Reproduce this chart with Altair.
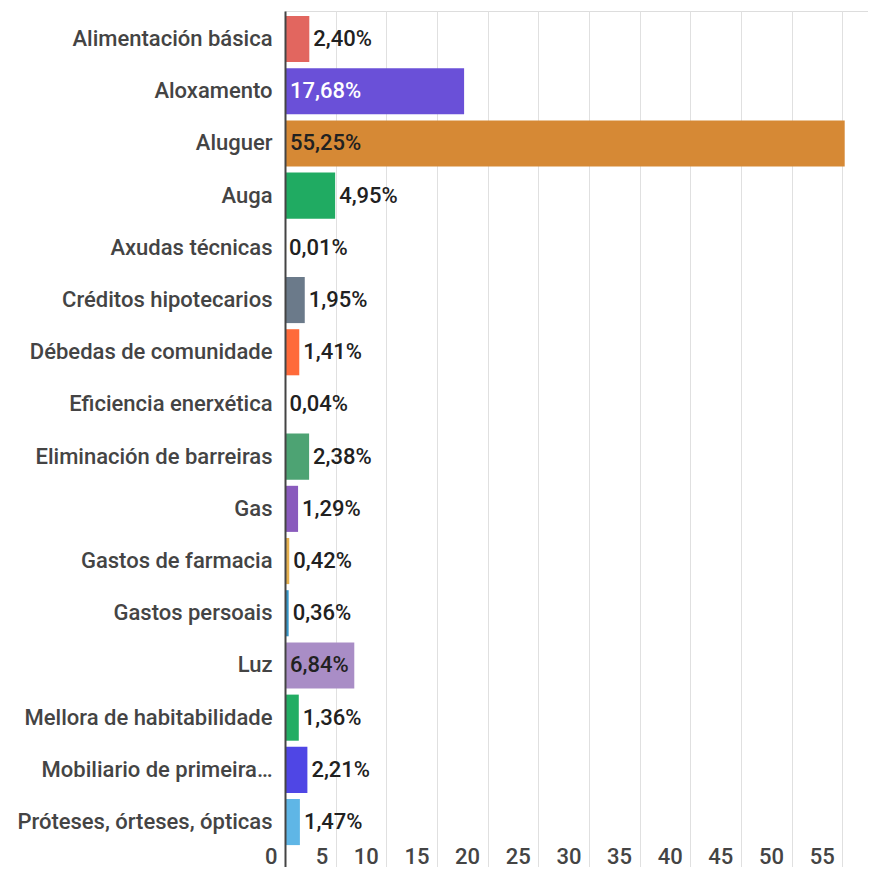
import altair as alt
import pandas as pd

categories = [
    "Alimentación básica",
    "Aloxamento",
    "Aluguer",
    "Auga",
    "Axudas técnicas",
    "Créditos hipotecarios",
    "Débedas de comunidade",
    "Eficiencia enerxética",
    "Eliminación de barreiras",
    "Gas",
    "Gastos de farmacia",
    "Gastos persoais",
    "Luz",
    "Mellora de habitabilidade",
    "Mobiliario de primeira…",
    "Próteses, órteses, ópticas",
]
values = [2.40, 17.68, 55.25, 4.95, 0.01, 1.95, 1.41, 0.04, 2.38, 1.29, 0.42, 0.36, 6.84, 1.36, 2.21, 1.47]
x_ticks = [0, 5, 10, 15, 20, 25, 30, 35, 40, 45, 50, 55]

bar_colors = [
    "#e2665f", "#6a50d8", "#d68935", "#20ab62", "#5c6bc0", "#6b7a8a", "#ff6a3a", "#e8836f",
    "#4da373", "#8a5bbd", "#e5b04e", "#3696c8", "#a98dc6", "#22ad63", "#4f46e5", "#5fb6e6",
]
inside_ink = [
    "#212121", "#ffffff", "#212121", "#212121", "#212121", "#212121", "#212121", "#212121",
    "#212121", "#212121", "#212121", "#212121", "#212121", "#212121", "#212121", "#212121",
]

df = pd.DataFrame({
    "cat": categories,
    "v": values,
    "label": [f"{v:.2f}".replace(".", ",") + "%" for v in values],
    "ink": inside_ink,
})

FONT = "Roboto"
W, H = 583, 856
FS = 22

y = alt.Y(
    "cat:N", sort=categories, title=None,
    scale=alt.Scale(paddingInner=0.117, paddingOuter=0.2577, align=0.186),
    axis=alt.Axis(labelFont=FONT, labelFontSize=FS, labelColor="#444444", labelFontWeight=500,
                  labelPadding=13, ticks=False, domain=True, domainColor="#444444",
                  domainWidth=2, zindex=1, grid=False, labelLimit=400),
)
x = alt.X(
    "v:Q", title=None,
    scale=alt.Scale(domain=[0, 57.55], nice=False, zero=True),
    axis=alt.Axis(values=x_ticks, grid=True, gridColor="#e0e0e0", gridWidth=1, domain=False,
                  ticks=False, tickSize=0, labelAlign="right", labelOffset=-8, labelFlush=False,
                  labelBaseline="top", labelPadding=0, offset=-21, labelFont=FONT,
                  labelFontSize=FS, labelColor="#444444", labelFontWeight=500),
)

base = alt.Chart(df)

bars = base.mark_bar().encode(
    y=y, x=x,
    color=alt.Color("cat:N", scale=alt.Scale(domain=categories, range=bar_colors), legend=None),
)

outside = base.transform_filter("datum.v < 6").mark_text(
    align="left", baseline="middle", dx=4, font=FONT, fontSize=FS, fontWeight=500, color="#212121"
).encode(y=alt.Y("cat:N", sort=categories), x=alt.X("v:Q"), text="label:N")

inside = base.transform_filter("datum.v >= 6").mark_text(
    align="left", baseline="middle", dx=5, font=FONT, fontSize=FS, fontWeight=500
).encode(y=alt.Y("cat:N", sort=categories), x=alt.datum(0), text="label:N",
         color=alt.Color("ink:N", scale=None))

chart = (bars + outside + inside).properties(
    width=W, height=H,
    autosize=alt.AutoSizeParams(type="none"),
    padding={"left": 277, "top": 3, "right": 0, "bottom": 0},
).configure_view(stroke=None).configure(background="white")

chart.save("out.html", embed_options={"renderer": "svg", "actions": False})
